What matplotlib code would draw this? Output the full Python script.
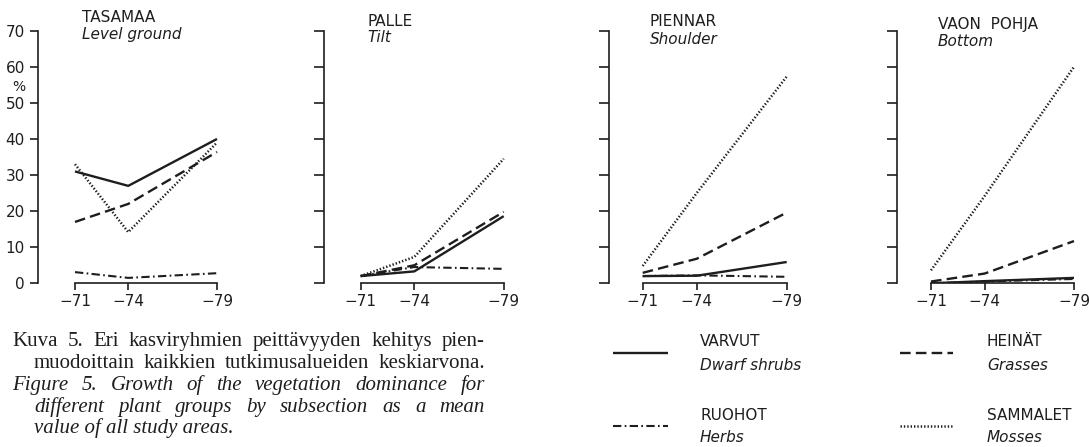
import matplotlib
matplotlib.use("Agg")
import matplotlib.pyplot as plt
from matplotlib.lines import Line2D

# ---------------- data ----------------
years = [71, 74, 79]
year_labels = ["\u221271", "\u221274", "\u221279"]
panel_titles = ["TASAMAA", "PALLE", "PIENNAR", "VAON  POHJA"]
panel_subtitles = ["Level ground", "Tilt", "Shoulder", "Bottom"]

# Varvut / Dwarf shrubs
varvut = [[31, 27, 40], [2, 3.3, 18.6], [2, 2.1, 5.9], [0, 0.6, 1.5]]
# Heinät / Grasses
heinat = [[17, 22, 36.4], [2, 5, 19.8], [2.9, 6.8, 19.6], [0.5, 2.7, 11.7]]
# Ruohot / Herbs
ruohot = [[3.1, 1.5, 2.8], [2, 4.5, 4], [2, 2.2, 1.8], [0, 0.5, 1.2]]
# Sammalet / Mosses
sammalet = [[33, 14.2, 39], [2, 7.3, 34.5], [4.8, 25, 57.3], [3.6, 24.2, 60]]

group_names = ["VARVUT", "HEINÄT", "RUOHOT", "SAMMALET"]
group_names_en = ["Dwarf shrubs", "Grasses", "Herbs", "Mosses"]
y_ticks = [0, 10, 20, 30, 40, 50, 60, 70]

caption_lines = [
    "Kuva 5. Eri kasviryhmien peittävyyden kehitys pien-",
    "muodoittain kaikkien tutkimusalueiden keskiarvona.",
    "Figure 5. Growth of the vegetation dominance for",
    "different plant groups by subsection as a mean",
    "value of all study areas.",
]

# ---------------- styles ----------------
W, H = 1089, 447
INK = "#1e1e1e"
SANS = "DejaVu Sans"
SERIF = "Liberation Serif"
styles = {
    "varvut": dict(linestyle="-", lw=1.7),
    "heinat": dict(linestyle=(0, (4.5, 2.2)), lw=1.7),
    "ruohot": dict(linestyle=(0, (4.0, 1.6, 0.8, 1.6)), lw=1.5),
    "sammalet": dict(linestyle=(0, (0.55, 0.8)), lw=1.8),
}

fig = plt.figure(figsize=(W / 100, H / 100), dpi=100)
fig.patch.set_facecolor("white")

# pixel geometry per panel: y-axis x, x of -71, x of -79
geom = [(37.5, 75, 217), (324.3, 360.7, 503.7), (609, 642.7, 786.7), (896.7, 931, 1074)]
title_y = [(17, 35), (21, 37), (22, 39), (24, 41.5)]
y0_px, y70_px = 283.3, 30.7

series = [("varvut", varvut), ("heinat", heinat), ("ruohot", ruohot), ("sammalet", sammalet)]

for i, (ypx, x71, x79) in enumerate(geom):
    scale = (x79 - x71) / (years[-1] - years[0])
    right_px = x79 + 8
    ax = fig.add_axes([ypx / W, 1 - y0_px / H, (right_px - ypx) / W, (y0_px - y70_px) / H])
    ax.set_xlim(years[0] - (x71 - ypx) / scale, years[-1] + 8 / scale)
    ax.set_ylim(0, 70)
    ax.patch.set_alpha(0)
    for s in ["top", "right"]:
        ax.spines[s].set_visible(False)
    ax.spines["left"].set_bounds(0, 70)
    ax.spines["bottom"].set_bounds(years[0], years[-1])
    for s in ["left", "bottom"]:
        ax.spines[s].set_linewidth(1.2)
        ax.spines[s].set_color(INK)
    ax.set_yticks(y_ticks)
    ax.set_xticks(years)
    ax.set_xticklabels(year_labels, fontsize=11, family=SANS, color=INK)
    if i == 0:
        ax.set_yticklabels([str(v) for v in y_ticks], fontsize=11, family=SANS, color=INK)
    else:
        ax.set_yticklabels([])
    ax.tick_params(axis="y", direction="out", length=6 if i == 0 else 7.5, width=1.2, color=INK, pad=3)
    ax.tick_params(axis="x", direction="out", length=5, width=1.2, color=INK, pad=3)
    for name, data in series:
        ax.plot(years, data[i], color=INK, solid_capstyle="butt", dash_capstyle="butt", **styles[name])
    tx = (x71 + 7) / W
    fig.text(tx, 1 - title_y[i][0] / H, panel_titles[i], fontsize=11, family=SANS, color=INK,
             ha="left", va="center")
    fig.text(tx, 1 - title_y[i][1] / H, panel_subtitles[i], fontsize=11, family=SANS,
             style="italic", color=INK, ha="left", va="center")

fig.text(12 / W, 1 - 87 / H, "%", fontsize=10, family=SANS, color=INK, ha="left", va="center")

# ---------------- legend (drawn in a pixel-coordinate overlay) ----------------
lax = fig.add_axes([0, 0, 1, 1])
lax.set_xlim(0, W)
lax.set_ylim(H, 0)
lax.axis("off")
lax.patch.set_alpha(0)
leg_pos = [(613, 668, 700, 353), (900, 953, 987, 353), (613, 668, 700, 426), (900, 953, 987, 426)]
leg_keys = ["varvut", "heinat", "ruohot", "sammalet"]
for k, (x1, x2, xt, yl) in enumerate(leg_pos):
    lax.add_line(Line2D([x1, x2], [yl, yl], color=INK, solid_capstyle="butt",
                        dash_capstyle="butt", **styles[leg_keys[k]]))
    lax.text(xt, yl - 11, group_names[k], fontsize=11, family=SANS, color=INK, ha="left", va="center")
    lax.text(xt, yl + 12, group_names_en[k], fontsize=11, family=SANS, style="italic",
             color=INK, ha="left", va="center")

# ---------------- caption (justified) ----------------
renderer = fig.canvas.get_renderer()
cap_geom = [(12, 485, 346, False, True), (34, 485, 368.3, False, True),
            (12, 485, 390, True, True), (34, 485, 411.7, True, True),
            (34, None, 433.3, True, False)]
for line, (xl, xr, yb, ital, just) in zip(caption_lines, cap_geom):
    kw = dict(fontsize=15, family=SERIF, color=INK, va="baseline", ha="left",
              style="italic" if ital else "normal")
    if not just:
        lax.text(xl, yb, line, **kw)
        continue
    words = line.split()
    tobjs = [lax.text(0, yb, w, **kw) for w in words]
    widths = [t.get_window_extent(renderer).width for t in tobjs]
    gap = ((xr - xl) - sum(widths)) / (len(words) - 1)
    x = xl
    for t, w in zip(tobjs, widths):
        t.set_x(x)
        x += w + gap

fig.savefig("out.png", dpi=100, facecolor="white")
